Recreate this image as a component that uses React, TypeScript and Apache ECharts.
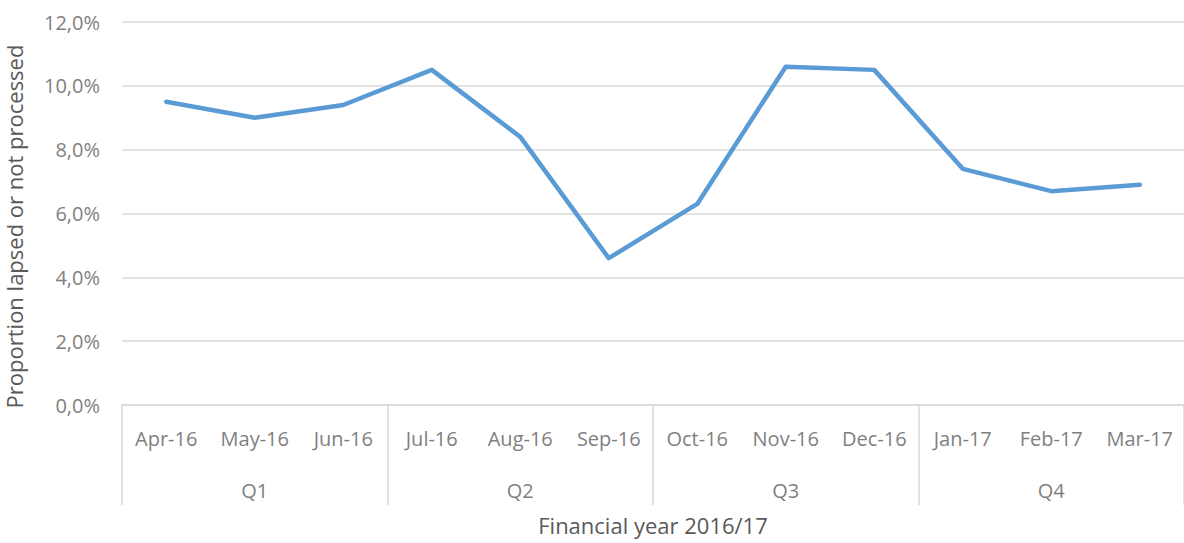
import React, { useEffect, useRef } from "react";
import * as echarts from "echarts";

const months = ["Apr-16", "May-16", "Jun-16", "Jul-16", "Aug-16", "Sep-16", "Oct-16", "Nov-16", "Dec-16", "Jan-17", "Feb-17", "Mar-17"];
const quarters = ["Q1", "Q2", "Q3", "Q4"];
const proportion = [9.5, 9.0, 9.4, 10.5, 8.4, 4.6, 6.3, 10.6, 10.5, 7.4, 6.7, 6.9];
const yTicks = [0, 2, 4, 6, 8, 10, 12];

const FONT = "'Open Sans', 'Noto Sans', sans-serif";

export default function App() {
  const ref = useRef<HTMLDivElement>(null);
  useEffect(() => {
    document.body.style.margin = "0";
    const chart = echarts.init(ref.current!, null, { renderer: "svg" });
    chart.setOption({
      animation: false,
      textStyle: { fontFamily: FONT },
      grid: { left: 122, right: 0, top: 22, bottom: 138, outerBoundsMode: "none", containLabel: false },
      xAxis: [
        {
          type: "category",
          data: months,
          boundaryGap: true,
          axisLine: { show: true, lineStyle: { color: "#d9d9d9", width: 1.5 } },
          axisTick: { show: false },
          axisLabel: { color: "#7f7f7f", fontSize: 20, margin: 23, interval: 0, fontFamily: FONT },
          name: "Financial year 2016/17",
          nameLocation: "middle",
          nameGap: 109,
          nameTextStyle: { color: "#595959", fontSize: 22, fontFamily: FONT },
        },
        {
          type: "category",
          data: quarters,
          position: "bottom",
          boundaryGap: true,
          axisLine: { show: false },
          axisTick: { show: true, inside: false, length: 100, alignWithLabel: false, lineStyle: { color: "#d9d9d9", width: 1.5 } },
          axisLabel: { color: "#7f7f7f", fontSize: 20, margin: 75, interval: 0, fontFamily: FONT },
        },
      ],
      yAxis: {
        type: "value",
        min: 0,
        max: 12,
        interval: 2,
        axisLine: { show: false },
        axisTick: { show: false },
        splitLine: { lineStyle: { color: "#d9d9d9", width: 1.5 } },
        axisLabel: {
          color: "#7f7f7f",
          fontSize: 20,
          margin: 22,
          fontFamily: FONT,
          formatter: (v: number) => (yTicks.includes(v) ? v.toFixed(1).replace(".", ",") + "%" : ""),
        },
        name: "Proportion lapsed or not processed",
        nameLocation: "middle",
        nameGap: 97,
        nameTextStyle: { color: "#595959", fontSize: 22, fontFamily: FONT, padding: [0, 26, 0, 0] },
      },
      series: [
        {
          type: "line",
          data: proportion,
          xAxisIndex: 0,
          showSymbol: false,
          symbol: "none",
          lineStyle: { color: "#5b9bd5", width: 4.5, cap: "round", join: "round" },
        },
      ],
    });
    return () => chart.dispose();
  }, []);
  return <div ref={ref} style={{ width: 1184, height: 543 }} />;
}
